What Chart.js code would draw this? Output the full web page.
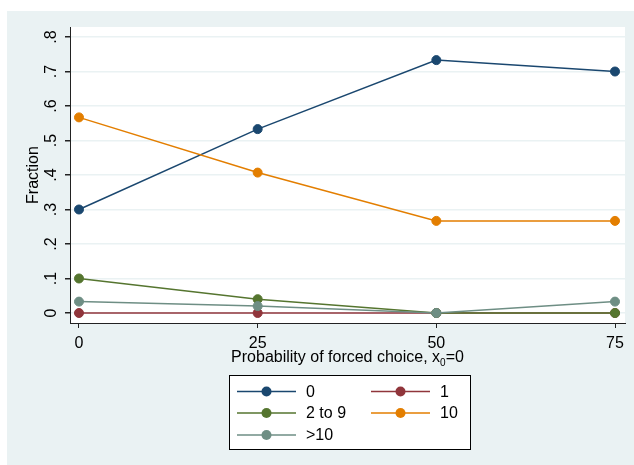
<!DOCTYPE html>
<html>
<head>
<meta charset="utf-8">
<script src="https://cdn.jsdelivr.net/npm/chart.js@4/dist/chart.umd.min.js"></script>
<style>
    html, body { margin: 0; padding: 0; background: #ffffff; }
    canvas { display: block; }
</style>
</head>
<body>
<canvas id="fractionChart" width="634" height="465"></canvas>
<script>
// Chart values
const xValues = [0, 25, 50, 75];
const xTickValues = [0, 25, 50, 75];
const yTickValues = [0, 0.1, 0.2, 0.3, 0.4, 0.5, 0.6, 0.7, 0.8];
const yTickLabels = ['0', '.1', '.2', '.3', '.4', '.5', '.6', '.7', '.8'];

const seriesLabels = ['0', '1', '2 to 9', '10', '>10'];
const series0 = [0.3, 0.533, 0.733, 0.7];
const series1 = [0, 0, 0, 0];
const series2to9 = [0.1, 0.04, 0, 0];
const series10 = [0.567, 0.407, 0.267, 0.267];
const seriesOver10 = [0.033, 0.02, 0, 0.033];
const seriesColors = ['#1a476f', '#90353b', '#55752f', '#e37e00', '#6e8e84'];

const FONT = '"Liberation Sans", Arial, Helvetica, sans-serif';
const BG = '#eaf2f3';

document.addEventListener('DOMContentLoaded', function() {
    initFractionChart();
});

function makeDataset(label, values, color, index) {
    return {
        label: label,
        data: xValues.map((x, i) => ({ x: x, y: values[i] })),
        borderColor: color,
        backgroundColor: color,
        borderWidth: 1.5,
        pointRadius: 4.5,
        pointBorderWidth: 1,
        pointBorderColor: color,
        pointBackgroundColor: color,
        tension: 0,
        // later series are drawn on top, as in the original
        order: 10 - index
    };
}

// Stata-like frame, axis titles, y tick labels and legend
const stataDecor = {
    id: 'stataDecor',
    beforeDraw(chart) {
        const ctx = chart.ctx;
        const a = chart.chartArea;
        ctx.save();
        ctx.fillStyle = '#ffffff';
        ctx.fillRect(0, 0, chart.width, chart.height);
        ctx.fillStyle = BG;
        ctx.fillRect(7, 11, chart.width - 7, chart.height - 11);
        ctx.fillStyle = '#ffffff';
        ctx.fillRect(a.left, a.top, a.right - a.left, a.bottom - a.top);
        ctx.restore();
    },
    afterDraw(chart) {
        const ctx = chart.ctx;
        const a = chart.chartArea;
        const yScale = chart.scales.y;
        ctx.save();
        ctx.fillStyle = '#000000';
        ctx.font = '16px ' + FONT;

        // y tick labels, rotated like Stata
        ctx.textAlign = 'center';
        ctx.textBaseline = 'middle';
        yTickValues.forEach((v, i) => {
            const py = yScale.getPixelForValue(v);
            ctx.save();
            ctx.translate(52, py);
            ctx.rotate(-Math.PI / 2);
            ctx.fillText(yTickLabels[i], 0, 0);
            ctx.restore();
        });

        // y axis title
        ctx.save();
        ctx.translate(34, (a.top + a.bottom) / 2);
        ctx.rotate(-Math.PI / 2);
        ctx.fillText('Fraction', 0, 0);
        ctx.restore();

        // x axis title with subscript
        const main = 'Probability of forced choice, x';
        const sub = '0';
        const tail = '=0';
        ctx.font = '16px ' + FONT;
        const wMain = ctx.measureText(main).width;
        const wTail = ctx.measureText(tail).width;
        ctx.font = '10px ' + FONT;
        const wSub = ctx.measureText(sub).width;
        const total = wMain + wSub + wTail;
        let tx = (a.left + a.right) / 2 - total / 2;
        const ty = 358;
        ctx.textAlign = 'left';
        ctx.font = '16px ' + FONT;
        ctx.fillText(main, tx, ty);
        tx += wMain;
        ctx.font = '10px ' + FONT;
        ctx.fillText(sub, tx, ty + 5);
        tx += wSub;
        ctx.font = '16px ' + FONT;
        ctx.fillText(tail, tx, ty);

        // legend box
        const box = { x: 229.5, y: 375.5, w: 241, h: 74 };
        ctx.fillStyle = '#ffffff';
        ctx.fillRect(box.x, box.y, box.w, box.h);
        ctx.strokeStyle = '#000000';
        ctx.lineWidth = 1;
        ctx.strokeRect(box.x, box.y, box.w, box.h);

        const cols = [237, 371];
        const rows = [391.5, 413, 435];
        seriesLabels.forEach((label, i) => {
            const cx = cols[i % 2];
            const cy = rows[Math.floor(i / 2)];
            const color = seriesColors[i];
            ctx.strokeStyle = color;
            ctx.lineWidth = 1.5;
            ctx.beginPath();
            ctx.moveTo(cx, cy);
            ctx.lineTo(cx + 59, cy);
            ctx.stroke();
            ctx.fillStyle = color;
            ctx.beginPath();
            ctx.arc(cx + 29.5, cy, 5, 0, Math.PI * 2);
            ctx.fill();
            ctx.fillStyle = '#000000';
            ctx.font = '16px ' + FONT;
            ctx.textAlign = 'left';
            ctx.textBaseline = 'middle';
            ctx.fillText(label, cx + 69, cy + 1);
        });
        ctx.restore();
    }
};

function initFractionChart() {
    const ctx = document.getElementById('fractionChart').getContext('2d');
    const allSeries = [series0, series1, series2to9, series10, seriesOver10];

    new Chart(ctx, {
        type: 'line',
        data: {
            datasets: allSeries.map((values, i) => makeDataset(seriesLabels[i], values, seriesColors[i], i))
        },
        options: {
            responsive: false,
            animation: false,
            devicePixelRatio: 1,
            layout: {
                padding: { left: 0, top: 27, right: 9, bottom: 90 }
            },
            plugins: {
                legend: { display: false },
                tooltip: { enabled: false }
            },
            scales: {
                x: {
                    type: 'linear',
                    min: -1.259,
                    max: 76.399,
                    afterBuildTicks: function(scale) {
                        scale.ticks = xTickValues.map(v => ({ value: v }));
                    },
                    afterFit: function(scale) {
                        scale.height = 52;
                    },
                    grid: {
                        drawOnChartArea: false,
                        drawTicks: true,
                        tickLength: 5,
                        tickColor: '#222222'
                    },
                    border: { display: true, color: '#222222', width: 1 },
                    ticks: {
                        color: '#000000',
                        padding: 6,
                        maxRotation: 0,
                        font: { family: FONT, size: 16 }
                    }
                },
                y: {
                    type: 'linear',
                    min: -0.029,
                    max: 0.829,
                    afterBuildTicks: function(scale) {
                        scale.ticks = yTickValues.map(v => ({ value: v }));
                    },
                    afterFit: function(scale) {
                        scale.width = 70;
                    },
                    grid: {
                        color: BG,
                        lineWidth: 1.5,
                        drawTicks: true,
                        tickLength: 5,
                        tickColor: '#222222'
                    },
                    border: { display: true, color: '#222222', width: 1 },
                    ticks: { display: false }
                }
            }
        },
        plugins: [stataDecor]
    });
}
</script>
</body>
</html>
